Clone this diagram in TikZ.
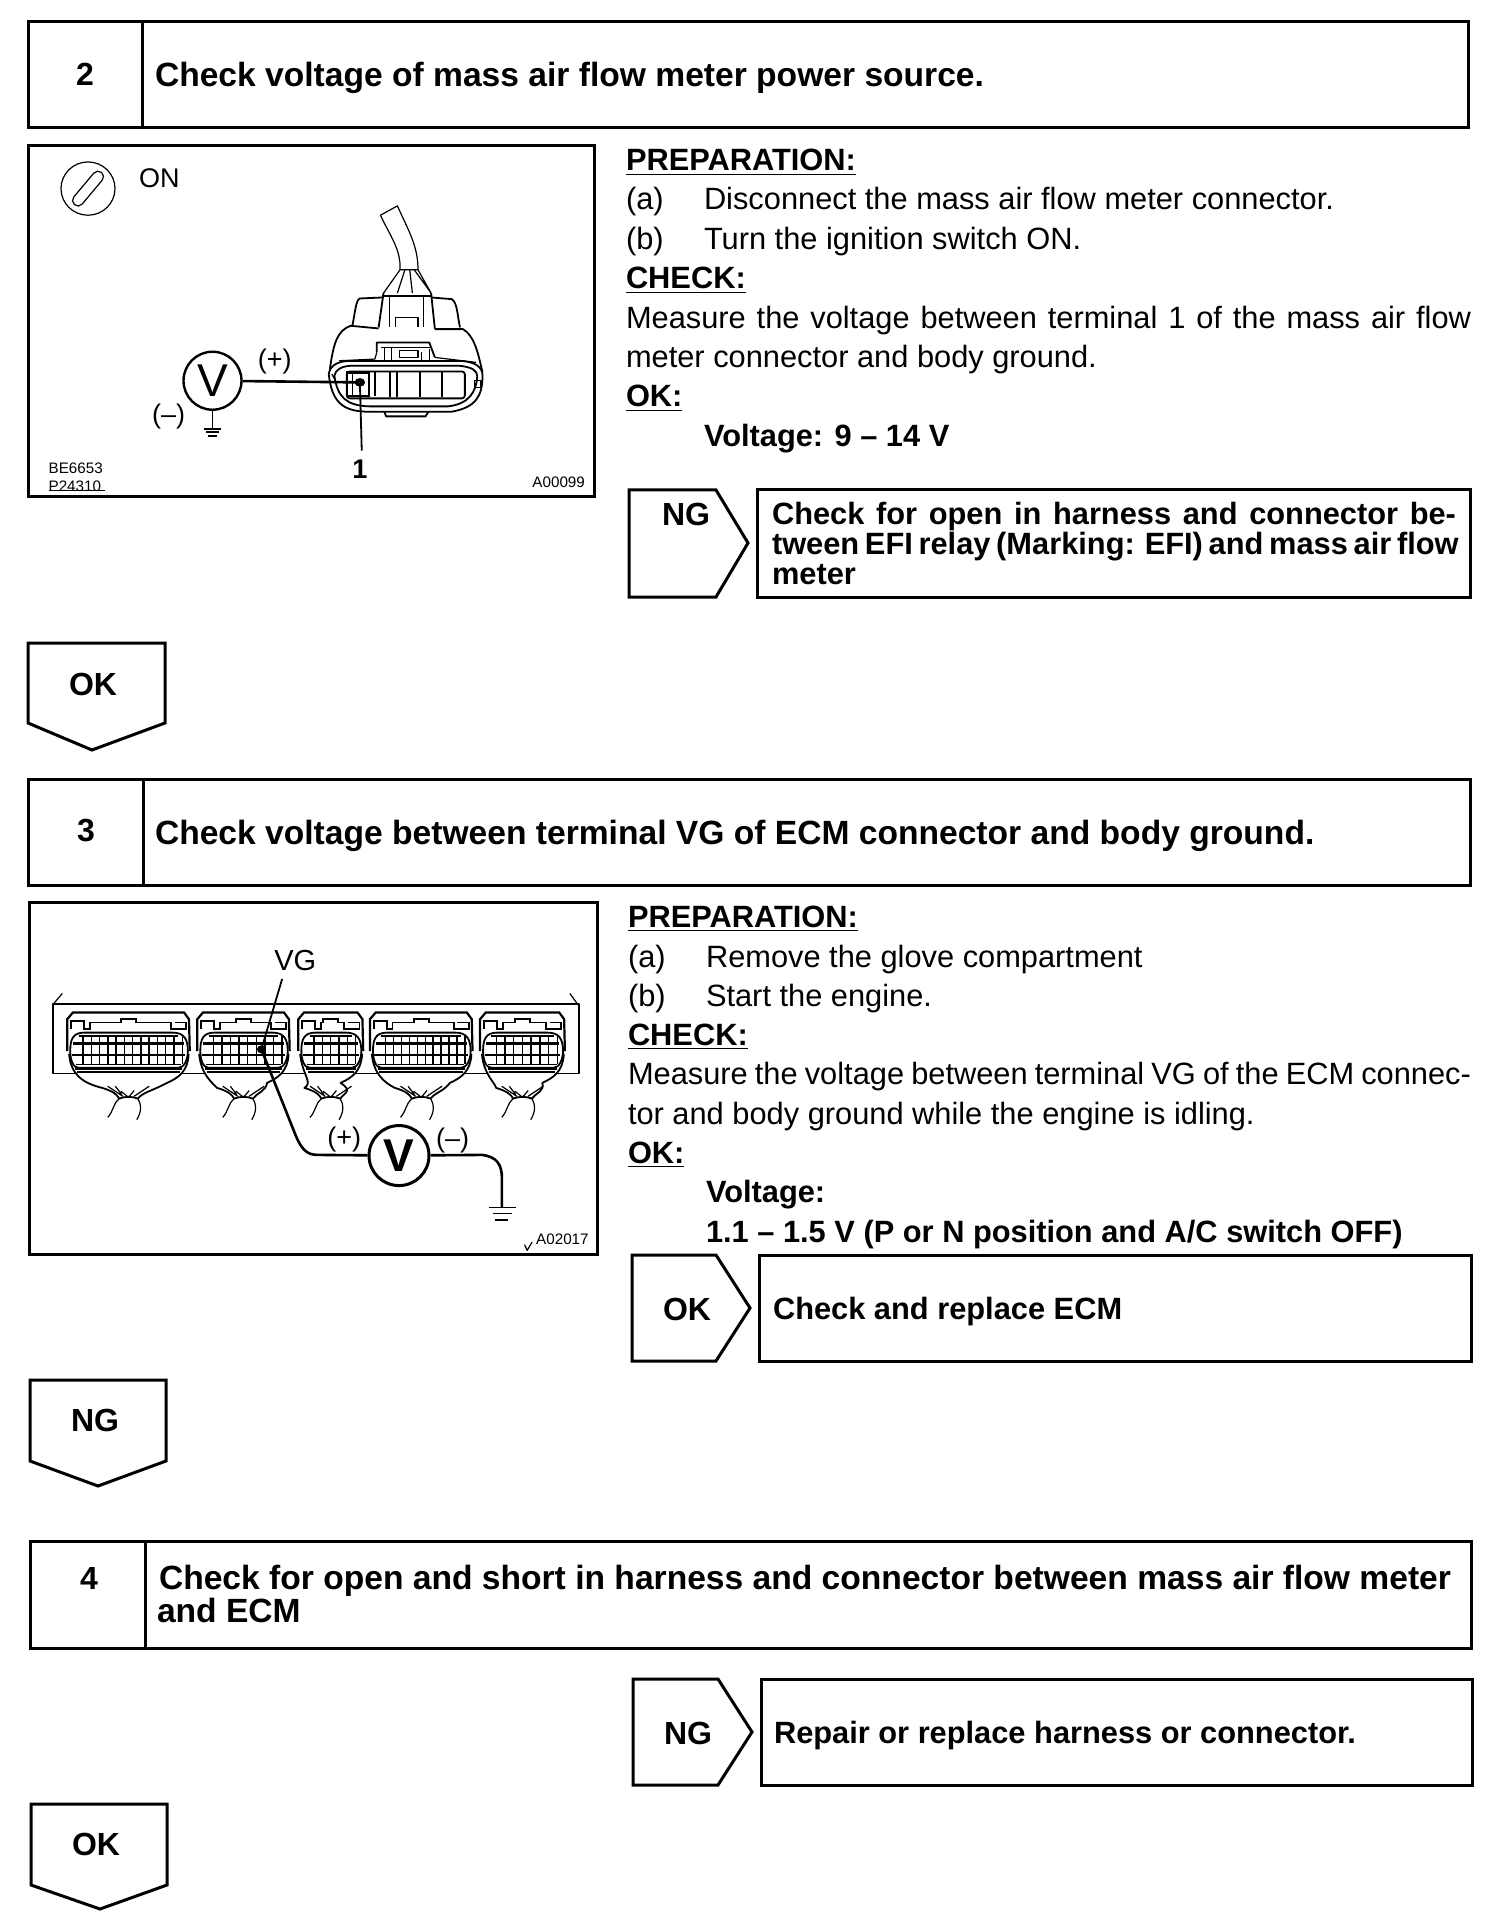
\documentclass[tikz,border=0pt]{standalone}
\usepackage{fontspec}
\setmainfont{Liberation Sans}
\usetikzlibrary{shapes.geometric}
\newcommand{\bodyf}{\fontsize{15.4}{18}\selectfont}
\newcommand{\headf}{\fontsize{15.4}{18}\selectfont\bfseries}
\newcommand{\titlef}{\fontsize{16.8}{19}\selectfont\bfseries}
\newcommand{\tagf}{\fontsize{16}{19}\selectfont\bfseries}
\newcommand{\resf}{\fontsize{15.4}{18}\selectfont\bfseries}
\tikzset{
  frame/.style={draw=black,line width=1.5pt,line join=miter,fill=none},
  txt/.style={anchor=base west,inner sep=0pt,outer sep=0pt,font=\bodyf},
  hd/.style={anchor=base west,inner sep=0pt,outer sep=0pt,font=\headf},
  ttl/.style={anchor=base west,inner sep=0pt,outer sep=0pt,font=\titlef},
  rs/.style={anchor=base west,inner sep=0pt,outer sep=0pt,font=\resf},
  tag/.style={anchor=center,inner sep=0pt,outer sep=0pt,font=\tagf},
  lbl/.style={anchor=center,inner sep=0pt,outer sep=0pt,font=\fontsize{13.5}{16}\selectfont},
  tiny/.style={anchor=center,inner sep=0pt,outer sep=0pt,font=\fontsize{7.6}{9}\selectfont},
  meter/.style={draw=black,circle,line width=1.2pt,fill=white,inner sep=0pt,minimum size=29pt,font=\fontsize{23}{26}\selectfont},
  wire/.style={draw=black,line width=1.3pt,line join=round},
  thin/.style={draw=black,line width=.6pt,line join=round},
  med/.style={draw=black,line width=.9pt,line join=round}
}
\begin{document}
\begin{tikzpicture}[x=0.5pt,y=-0.5pt]
\useasboundingbox (0,0) rectangle (1504,1930);
\fill[white] (0,0) rectangle (1504,1930);

% ---- Step boxes
\draw[frame] (28,22) rectangle (1468,128);
\draw[frame] (142,22) -- (142,128);
\node[tag] (n2) at (85,74) {2};
\node[ttl] (t2) at (155,87) {Check voltage of mass air flow meter power source.};

\draw[frame] (28,779) rectangle (1470,885);
\draw[frame] (143,779) -- (143,885);
\node[tag] (n3) at (86,831) {3};
\node[ttl] (t3) at (155,844) {Check voltage between terminal VG of ECM connector and body ground.};

\draw[frame] (30,1541) rectangle (1471,1648);
\draw[frame] (145,1541) -- (145,1648);
\node[tag] (n4) at (89,1578) {4};
\node[ttl] (t4a) at (159,1589) {\makebox[646pt][s]{Check for open and short in harness and connector between mass air flow meter}};
\node[ttl] (t4b) at (157,1622) {and ECM};

% ---- Down pentagons
\draw[frame] (28,643) -- (165,643) -- (165,723) -- (92,750) -- (28,723) -- cycle;
\node[tag] (ok1) at (93,684) {OK};
\draw[frame] (30,1380) -- (166,1380) -- (166,1461) -- (98,1486) -- (30,1461) -- cycle;
\node[tag] (ng1) at (95,1420) {NG};
\draw[frame] (31,1804) -- (167,1804) -- (167,1885) -- (100,1909) -- (31,1885) -- cycle;
\node[tag] (ok2) at (96,1844) {OK};

% ---- Right tabs and result boxes
\draw[frame] (629,490) -- (716,490) -- (748,543) -- (716,597) -- (629,597) -- cycle;
\node[tag] (ng2) at (686,514) {NG};
\draw[frame] (757,490) rectangle (1470,597);
\node[rs] (r2a) at (772,525) {\makebox[342pt][s]{Check for open in harness and connector be-}};
\node[rs] (r2b) at (772,554) {\makebox[342pt][s]{tween EFI relay (Marking: EFI) and mass air flow}};
\node[rs] (r2c) at (772,584) {meter};

\draw[frame] (632,1255) -- (716,1255) -- (750,1308) -- (716,1361) -- (632,1361) -- cycle;
\node[tag] (ok3) at (687,1309) {OK};
\draw[frame] (759,1255) rectangle (1471,1361);
\node[rs] (r3) at (773,1319) {Check and replace ECM};

\draw[frame] (633,1679) -- (718,1679) -- (752,1732) -- (718,1785) -- (633,1785) -- cycle;
\node[tag] (ng3) at (688,1733) {NG};
\draw[frame] (761,1679) rectangle (1472,1785);
\node[rs] (r4) at (774,1743) {Repair or replace harness or connector.};

% ---- Text step 2
\node[hd] (p2) at (626,171) {\underline{PREPARATION:}};
\node[txt] (p2a) at (626,210) {(a)};
\node[txt] (p2at) at (704,210) {Disconnect the mass air flow meter connector.};
\node[txt] (p2b) at (626,250) {(b)};
\node[txt] (p2bt) at (704,250) {Turn the ignition switch ON.};
\node[hd] (c2) at (626,289) {\underline{CHECK:}};
\node[txt] (c2a) at (626,329) {\makebox[422.5pt][s]{Measure the voltage between terminal 1 of the mass air flow}};
\node[txt] (c2b) at (626,368) {meter connector and body ground.};
\node[hd] (o2) at (626,407) {\underline{OK:}};
\node[hd] (o2a) at (704,447) {Voltage: 9 -- 14 V};

% ---- Text step 3
\node[hd] (p3) at (628,927) {\underline{PREPARATION:}};
\node[txt] (p3a) at (628,967) {(a)};
\node[txt] (p3at) at (706,967) {Remove the glove compartment};
\node[txt] (p3b) at (628,1006) {(b)};
\node[txt] (p3bt) at (706,1006) {Start the engine.};
\node[hd] (c3) at (628,1045) {\underline{CHECK:}};
\node[txt] (c3a) at (628,1084) {\makebox[421.5pt][s]{Measure the voltage between terminal VG of the ECM connec-}};
\node[txt] (c3b) at (628,1124) {tor and body ground while the engine is idling.};
\node[hd] (o3) at (628,1163) {\underline{OK:}};
\node[hd] (o3a) at (706,1202) {Voltage:};
\node[hd] (o3b) at (706,1242) {1.1 -- 1.5 V (P or N position and A/C switch OFF)};

% ---- Figure 1
\draw[frame] (28,146) rectangle (594,497);
\begin{scope}[shift={(20.5,139.3)},x=0.1875pt,y=-0.1665pt]
  % ignition key
  \draw[thin] (180,148) ellipse [x radius=72,y radius=80];
  \node[draw=black,line width=.6pt,rotate=50,minimum width=21pt,minimum height=5.5pt,inner sep=0pt,rounded corners=2.7pt] (key) at (180,148) {};
  \node[lbl] (on) at (370,116) {ON};
  % cable
  \draw[thin] (960,228) -- (1005,200) .. controls (1035,275) and (1060,320) .. (1060,392);
  \draw[thin] (960,228) .. controls (985,290) and (1015,330) .. (1012,392) -- (1060,392);
  \draw[thin] (1012,392) -- (968,462) (1025,392) -- (1005,462) (1038,392) -- (1045,462) (1050,392) -- (1095,462) (1060,392) -- (1095,462);
  % upper body
  \draw[med] (965,470) -- (1095,470);
  \draw[med] (968,462) -- (955,565) (1095,462) -- (1105,570);
  \draw[thin] (985,470) -- (985,565) (1075,470) -- (1075,565) (1000,565) -- (1000,535) -- (1060,535) -- (1060,565);
  \draw[med] (965,475) -- (905,478) .. controls (895,480) and (892,520) .. (885,560) (1095,475) -- (1150,480) .. controls (1165,490) and (1165,530) .. (1172,565);
  \draw[med] (955,568) -- (880,560) .. controls (845,575) and (835,610) .. (825,690);
  \draw[med] (1105,570) -- (1180,570) .. controls (1210,590) and (1220,640) .. (1232,700);
  % latch
  \draw[med] (950,640) -- (950,610) -- (1090,610) -- (1105,655);
  \draw[thin] (960,625) -- (1095,625) (970,625) -- (970,665) (990,625) -- (990,665) (1010,635) rectangle (1060,655) (1070,640) -- (1070,665) (1090,630) -- (1090,665);
  \draw[thin] (950,640) -- (945,660) -- (850,665);
  \draw[thin] (1105,655) -- (1215,670);
  % face outer
  \draw[med,fill=white] (822,705) .. controls (825,680) and (845,668) .. (870,666) -- (1180,666) .. controls (1215,670) and (1232,685) .. (1232,710) .. controls (1232,770) and (1215,805) .. (1150,818) -- (920,818) .. controls (860,815) and (830,790) .. (822,705) -- cycle;
  \draw[med] (837,710) .. controls (840,692) and (855,682) .. (880,680) -- (1170,680) .. controls (1205,684) and (1218,695) .. (1218,712) .. controls (1215,760) and (1195,795) .. (1140,802) -- (930,802) .. controls (870,800) and (845,775) .. (837,710) -- cycle;
  \draw[med] (970,818) -- (975,832) -- (1080,832) -- (1088,818);
  \draw[thin] (1210,725) rectangle (1228,745);
  \draw[thin] (830,705) -- (840,725);
  % cavities
  \draw[med,rounded corners=1.5pt] (870,697) rectangle (1185,778);
  \draw[med] (945,697) -- (945,770) (985,695) -- (985,775) (1005,695) -- (1005,775) (1065,697) -- (1065,775) (1125,700) -- (1125,775);
  \draw[line width=1.1pt] (870,700) rectangle (930,772);
  \draw[thin] (885,700) -- (885,772);
  \fill (905,730) circle [x radius=14,y radius=13];
  % meter
  \node[meter] (V1) at (512,725) {V};
  \coordinate (t1) at (905,730);
  \draw[wire] (V1) -- (t1);
  \node[lbl] (plus1) at (678,668) {(+)};
  \node[lbl] (minus1) at (395,832) {(--)};
  \coordinate (g1) at (512,870);
  \draw[thin] (V1) -- (g1);
  \draw[line width=.9pt] (490,870) -- (534,870) (495,880) -- (529,880) (501,890) -- (523,890);
  % callout
  \coordinate (l1) at (910,935);
  \draw[line width=.9pt] (t1) -- (l1);
  \node[lbl,font=\fontsize{13.5}{16}\selectfont\bfseries] (one) at (905,992) {1};
  \node[tiny] (be) [anchor=west] at (75,987) {BE6653};
  \node[tiny] (pn) [anchor=west] at (75,1042) {P24310};
  \draw[thin] (75,1054) -- (225,1054);
  \node[tiny] (a1) [anchor=east] at (1505,1030) {A00099};
\end{scope}

% ---- Figure 2
\draw[frame] (29.5,902) rectangle (597,1254);
\begin{scope}[shift={(20.1,893.6)},x=0.1885pt,y=-0.1675pt]
  \draw[med] (88,330) rectangle (1482,537);
  \draw[thin] (88,330) -- (112,298) (1482,335) -- (1458,298);
  \foreach \xa/\xb/\nc in {125/450/13,470/715/9,738/910/6,928/1200/11,1220/1445/8}{
    \pgfmathsetmacro{\xc}{(\xa+\xb)/2}
    \pgfmathsetmacro{\dx}{(\xb-\xa-40)/\nc}
    % harness body
    \draw[med,fill=white] (\xa+5,480) .. controls (\xa+10,540) and (\xa+40,565) .. (\xc-70,580) .. controls (\xc-40,590) and (\xc-30,600) .. (\xc-25,612) .. controls (\xc-10,605) and (\xc+10,605) .. (\xc+25,612) .. controls (\xc+35,595) and (\xc+60,590) .. (\xb-60,565) .. controls (\xb-30,550) and (\xb-5,530) .. (\xb-3,480) -- cycle;
    % top shell
    \draw[line width=1.1pt,fill=white] (\xa,470) -- (\xa,375) -- (\xa+15,355) -- (\xb-15,355) -- (\xb-2,375) -- (\xb,470);
    % oval
    \draw[line width=.9pt,fill=white] (\xa+8,470) .. controls (\xa+8,435) and (\xa+15,415) .. (\xa+45,415) -- (\xb-45,415) .. controls (\xb-15,415) and (\xb-5,435) .. (\xb-5,470) .. controls (\xb-5,495) and (\xb-15,520) .. (\xb-30,520) -- (\xa+30,520) .. controls (\xa+15,520) and (\xa+8,495) .. (\xa+8,470) -- cycle;
    % clips
    \draw[line width=.9pt] (\xa+10,405) -- (\xa+10,380) -- (\xa+45,380) -- (\xa+45,405) -- (\xa+60,405) -- (\xa+60,385) -- (\xc-20,385) -- (\xc-20,375) -- (\xc+20,375) -- (\xc+20,385) -- (\xb-50,385) -- (\xb-50,405) -- (\xb-10,405) -- (\xb-10,385) -- (\xb-40,385);
    % grid
    \draw[line width=1.2pt] (\xa+15,448) -- (\xb-15,448) (\xa+12,482) -- (\xb-12,482);
    \draw[line width=.7pt] (\xa+30,425) -- (\xb-30,425) (\xa+22,510) -- (\xb-22,510);
    \foreach \i in {1,...,\nc}{
      \pgfmathsetmacro{\xv}{\xa+20+\i*\dx}
      \draw[line width=.7pt] (\xv,425) -- (\xv,510);
    }
    \draw[line width=1.1pt] (\xa+20,522) -- (\xb-20,522);
    \draw[line width=.7pt] (\xa+25,532) -- (\xb-25,532);
    % wires
    \draw[thin] (\xc-25,612) .. controls (\xc-40,625) and (\xc-40,650) .. (\xc-55,668);
    \draw[thin] (\xc+25,612) .. controls (\xc+35,630) and (\xc+35,650) .. (\xc+22,675);
    \draw[thin] (\xc-55,575) -- (\xc-15,605) (\xc+55,575) -- (\xc+15,605) (\xc-20,590) -- (\xc,608) (\xc+15,588) -- (\xc,608) (\xc-35,575) -- (\xc-18,600);
  }
  \node[lbl,font=\fontsize{14.5}{17}\selectfont] (vg) at (730,200) {VG};
  \coordinate (t2p) at (640,465);
  \coordinate (t2l) at (695,255);
  \draw[thin,line width=.9pt] (t2l) -- (t2p);
  \fill (t2p) circle [x radius=12,y radius=12];
  \node[meter,minimum size=30pt,line width=1.5pt] (V2) at (1005,782) {\bfseries V};
  \coordinate (g2) at (1278,935);
  \draw[wire] (t2p) -- (725,705) .. controls (745,765) and (760,780) .. (790,780) -- (V2);
  \draw[wire] (V2) -- (1225,780) .. controls (1265,785) and (1278,810) .. (1278,850) -- (g2);
  \draw[thin,line width=.9pt] (1243,937) -- (1315,937) (1255,955) -- (1305,955) (1260,975) -- (1295,975);
  \node[lbl] (plus2) at (860,735) {(+)};
  \node[lbl] (minus2) at (1147,738) {(--)};
  \node[tiny,anchor=east] (a2) at (1508,1033) {A02017};
  \draw[thin] (1338,1048) -- (1345,1065) -- (1358,1040);
\end{scope}
\end{tikzpicture}
\end{document}
